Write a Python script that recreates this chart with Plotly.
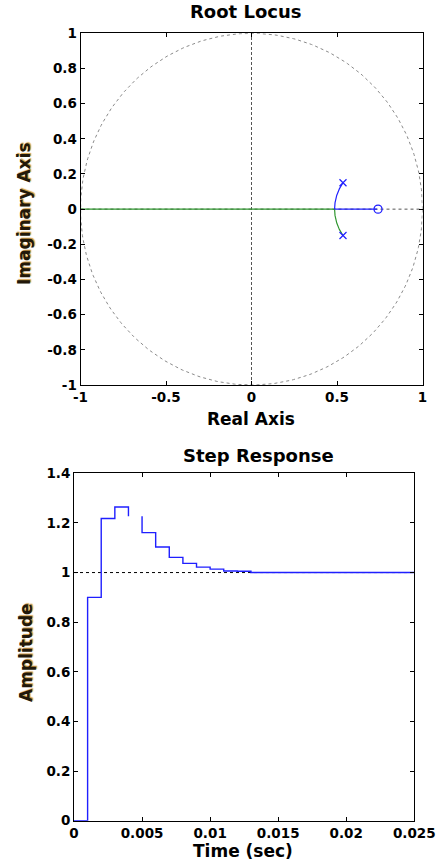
import numpy as np
import plotly.graph_objects as go

W, H = 440, 865

# ---- open-loop model for the root locus ----
pole_re = [0.535, 0.535]
pole_im = [0.150, -0.150]
zero_re = [0.740]
zero_im = [0.0]

# ---- sampled closed-loop step response (Ts = 1 ms) ----
t_samples = [k * 0.001 for k in range(26)]
amplitude = [0.0, 0.900, 1.218, 1.264, 1.227, 1.161, 1.103, 1.061, 1.037,
             1.022, 1.014, 1.006, 1.005, 1.0, 1.0, 1.0, 1.0, 1.0, 1.0, 1.0,
             1.0, 1.0, 1.0, 1.0, 1.0, 1.0]
hold_gaps = [4]  # sample whose hold segment is not drawn

rl_xticks = [-1, -0.5, 0, 0.5, 1]
rl_xtext = ["-1", "-0.5", "0", "0.5", "1"]
rl_yticks = [1, 0.8, 0.6, 0.4, 0.2, 0, -0.2, -0.4, -0.6, -0.8, -1]
rl_ytext = ["1", "0.8", "0.6", "0.4", "0.2", "0", "-0.2", "-0.4", "-0.6", "-0.8", "-1"]
sr_xticks = [0, 0.005, 0.01, 0.015, 0.02, 0.025]
sr_xtext = ["0", "0.005", "0.01", "0.015", "0.02", "0.025"]
sr_yticks = [0, 0.2, 0.4, 0.6, 0.8, 1, 1.2, 1.4]
sr_ytext = ["0", "0.2", "0.4", "0.6", "0.8", "1", "1.2", "1.4"]

BLUE = "#1f1fff"
GREEN = "#2f962f"
GREY = "#8a8a8a"
FONT = "DejaVu Sans"


def px_x(p):
    return p / W


def px_y(p):
    return 1 - p / H


# root locus branches: (z - p1)(z - p2) + K (z - z0) = 0
p1 = complex(pole_re[0], pole_im[0])
p2 = complex(pole_re[1], pole_im[1])
z0 = zero_re[0]
b_coef = -(p1 + p2).real
c_coef = (p1 * p2).real
K = np.concatenate([np.linspace(0, 2, 6000), np.linspace(2, 12, 600)[1:]])
bb = b_coef + K
cc = c_coef - K * z0
disc = np.sqrt((bb ** 2 - 4 * cc).astype(complex))
branch_up = (-bb + disc) / 2
branch_dn = (-bb - disc) / 2

fig = go.Figure()

# unit circle and axes guides
theta = np.linspace(0, 2 * np.pi, 400)
fig.add_trace(go.Scatter(x=np.cos(theta), y=np.sin(theta), mode="lines",
                         line=dict(color=GREY, width=1, dash="3px,3px"),
                         xaxis="x", yaxis="y", hoverinfo="skip"))
fig.add_trace(go.Scatter(x=[0, 0], y=[-1, 1], mode="lines",
                         line=dict(color="#555555", width=1, dash="3px,2px"),
                         xaxis="x", yaxis="y", hoverinfo="skip"))
fig.add_trace(go.Scatter(x=[-1, 1], y=[0, 0], mode="lines",
                         line=dict(color="#555555", width=1, dash="3px,3px"),
                         xaxis="x", yaxis="y", hoverinfo="skip"))

# locus branches
fig.add_trace(go.Scatter(x=branch_dn.real, y=branch_dn.imag, mode="lines",
                         line=dict(color=GREEN, width=1.2),
                         xaxis="x", yaxis="y"))
fig.add_trace(go.Scatter(x=branch_up.real, y=branch_up.imag, mode="lines",
                         line=dict(color=BLUE, width=1.2),
                         xaxis="x", yaxis="y"))

# poles and zero
fig.add_trace(go.Scatter(x=pole_re, y=pole_im, mode="markers",
                         marker=dict(symbol="x-thin-open", size=7, color=BLUE,
                                     line=dict(color=BLUE, width=1.2)),
                         xaxis="x", yaxis="y"))
fig.add_trace(go.Scatter(x=zero_re, y=zero_im, mode="markers",
                         marker=dict(symbol="circle-open", size=8, color=BLUE,
                                     line=dict(color=BLUE, width=1.3)),
                         xaxis="x", yaxis="y"))

# step response: final value reference and zero-order-hold stairs
fig.add_trace(go.Scatter(x=[sr_xticks[0], sr_xticks[-1]], y=[1, 1], mode="lines",
                         line=dict(color="black", width=1, dash="3px,3px"),
                         xaxis="x2", yaxis="y2", hoverinfo="skip"))

sx, sy = [t_samples[0]], [amplitude[0]]
for k in range(1, len(t_samples)):
    if (k - 1) in hold_gaps:
        sx += [None, t_samples[k]]
        sy += [None, amplitude[k - 1]]
    else:
        sx.append(t_samples[k])
        sy.append(amplitude[k - 1])
    sx.append(t_samples[k])
    sy.append(amplitude[k])
fig.add_trace(go.Scatter(x=sx, y=sy, mode="lines",
                         line=dict(color=BLUE, width=1.4),
                         connectgaps=False, xaxis="x2", yaxis="y2"))

tick_font = dict(family=FONT, size=13.5, color="black", weight="bold")
axis_common = dict(showgrid=False, zeroline=False, showline=True, linecolor="black",
                   linewidth=1, mirror="ticks", ticks="inside", ticklen=4,
                   tickcolor="black", tickfont=tick_font, fixedrange=True,
                   automargin=False)

fig.update_layout(
    width=W, height=H, autosize=False, margin=dict(l=0, r=0, t=0, b=0),
    paper_bgcolor="white", plot_bgcolor="white", showlegend=False,
    xaxis=dict(domain=[px_x(80.5), px_x(422.5)], range=[-1, 1], anchor="y",
               tickvals=rl_xticks, ticktext=rl_xtext, **axis_common),
    yaxis=dict(domain=[px_y(385), px_y(33.3)], range=[-1, 1], anchor="x",
               tickvals=rl_yticks, ticktext=rl_ytext, **axis_common),
    xaxis2=dict(domain=[px_x(74), px_x(414.3)], range=[0, 0.025], anchor="y2",
                tickvals=sr_xticks, ticktext=sr_xtext, **axis_common),
    yaxis2=dict(domain=[px_y(820.7), px_y(473.3)], range=[0, 1.4], anchor="x2",
                tickvals=sr_yticks, ticktext=sr_ytext, **axis_common),
)

title_font = dict(family=FONT, size=18, color="black", weight="bold")
xlabel_font = dict(family=FONT, size=17, color="black", weight="bold")
ylabel_font = dict(family=FONT, size=17, color="#22180a", weight="bold",
                   shadow="1px 1px 1px #d0963c")
labels = [
    ("Root Locus", 246, 11.5, title_font, 0),
    ("Real Axis", 251, 419, xlabel_font, 0),
    ("Imaginary Axis", 24, 214, ylabel_font, -90),
    ("Step Response", 258, 455, title_font, 0),
    ("Time (sec)", 243, 851, xlabel_font, 0),
    ("Amplitude", 26, 653, ylabel_font, -90),
]
for text, x, y, font, ang in labels:
    fig.add_annotation(text=text, x=px_x(x), y=px_y(y), xref="paper", yref="paper",
                       xanchor="center", yanchor="middle", showarrow=False,
                       font=font, textangle=ang)

fig.write_html(
    "out.html",
    config={"responsive": False, "displayModeBar": False},
    post_script="document.body.style.margin='0';document.body.style.overflow='hidden';",
)
